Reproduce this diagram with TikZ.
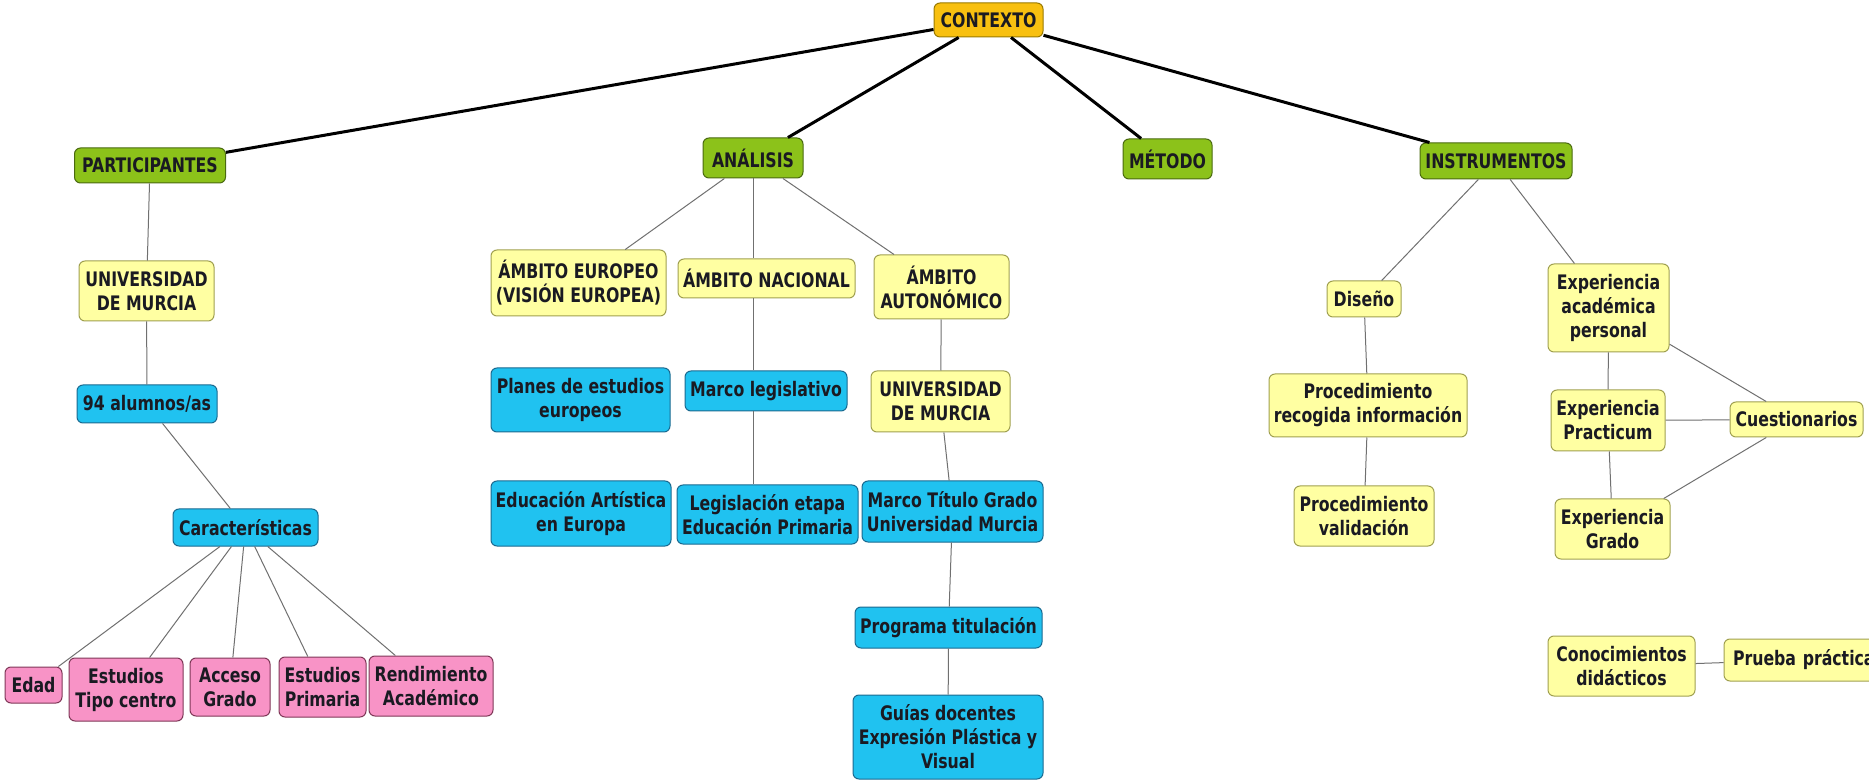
\documentclass[tikz,border=0pt]{standalone}
\usepackage{fontspec}
\setmainfont{DejaVu Sans Condensed}[BoldFont={DejaVu Sans Condensed Bold}, BoldFeatures={FakeStretch=0.875}]
\definecolor{txt}{HTML}{1A1A22}
\definecolor{orfill}{HTML}{F8C010}
\definecolor{ordraw}{HTML}{9A7A00}
\definecolor{grfill}{HTML}{8CC21A}
\definecolor{grdraw}{HTML}{4A6A10}
\definecolor{yefill}{HTML}{FFFFA2}
\definecolor{yedraw}{HTML}{A0A050}
\definecolor{blfill}{HTML}{20C2F0}
\definecolor{bldraw}{HTML}{1A6A90}
\definecolor{pkfill}{HTML}{F893C6}
\definecolor{pkdraw}{HTML}{803858}
\definecolor{lnk}{HTML}{707070}
\tikzset{
  box/.style={rounded corners=3pt, line width=0.5pt, inner sep=0pt, align=center,
    text=txt, font=\bfseries\fontsize{10}{12}\selectfont},
  orbox/.style={box, fill=orfill, draw=ordraw},
  grbox/.style={box, fill=grfill, draw=grdraw},
  yebox/.style={box, fill=yefill, draw=yedraw},
  blbox/.style={box, fill=blfill, draw=bldraw},
  pkbox/.style={box, fill=pkfill, draw=pkdraw},
  sz/.style 2 args={minimum width=#1*0.5pt, minimum height=#2*0.5pt},
  thick link/.style={line width=1.5pt, black},
  thin link/.style={line width=0.5pt, lnk}
}
\begin{document}
\begin{tikzpicture}[x=0.5pt,y=-0.5pt]
\useasboundingbox[fill=white] (0,0) rectangle (1869,780);
% level 0 and 1
\node[orbox, sz={109}{34}] (ctx) at (988.5,20) {CONTEXTO};
\node[grbox, sz={151}{35}] (part) at (150,165.5) {PARTICIPANTES};
\node[grbox, sz={100}{40}] (ana) at (753,158) {ANÁLISIS};
\node[grbox, sz={89}{40}] (met) at (1167.5,159) {MÉTODO};
\node[grbox, sz={152}{36}] (ins) at (1496,161) {INSTRUMENTOS};
% participantes branch
\node[yebox, sz={135}{60}] (um1) at (146.5,291) {UNIVERSIDAD\\DE MURCIA};
\node[blbox, sz={140}{38}] (alu) at (147,404) {94 alumnos/as};
\node[blbox, sz={145}{37}] (car) at (245.5,527.5) {Características};
\node[pkbox, sz={57}{36}] (edad) at (33.5,685) {Edad};
\node[pkbox, sz={114}{63}] (etc) at (126,689.5) {Estudios\\Tipo centro};
\node[pkbox, sz={80}{58}] (acc) at (230,687) {Acceso\\Grado};
\node[pkbox, sz={87}{60}] (epr) at (322.5,687) {Estudios\\Primaria};
\node[pkbox, sz={124}{60}] (ren) at (431,686) {Rendimiento\\Académico};
% analisis branch
\node[yebox, sz={175}{66}] (eur) at (578.5,283) {ÁMBITO EUROPEO\\(VISIÓN EUROPEA)};
\node[yebox, sz={177}{39}] (nac) at (766.5,278.5) {ÁMBITO NACIONAL};
\node[yebox, sz={135}{64}] (aut) at (941.5,287) {ÁMBITO\\AUTONÓMICO};
\node[blbox, sz={179}{64}] (pla) at (580.5,400) {Planes de estudios\\europeos};
\node[blbox, sz={162}{40}] (mle) at (766,391) {Marco legislativo};
\node[yebox, sz={139}{61}] (um2) at (940.5,401.5) {UNIVERSIDAD\\DE MURCIA};
\node[blbox, sz={180}{65}] (edu) at (581,513.5) {Educación Artística\\en Europa};
\node[blbox, sz={181}{59}] (leg) at (767.5,514.5) {Legislación etapa\\Educación Primaria};
\node[blbox, sz={181}{61}] (mtg) at (952.5,511.5) {Marco Título Grado\\Universidad Murcia};
\node[blbox, sz={187}{41}] (pro) at (948.5,627.5) {Programa titulación};
\node[blbox, sz={190}{84}] (gui) at (948,737) {Guías docentes\\Expresión Plástica y\\Visual};
% instrumentos branch
\node[yebox, sz={74}{36}] (dis) at (1364,299) {Diseño};
\node[yebox, sz={198}{63}] (prg) at (1368,405.5) {Procedimiento\\recogida información};
\node[yebox, sz={140}{60}] (pva) at (1364,516) {Procedimiento\\validación};
\node[yebox, sz={121}{88}] (eap) at (1608.5,308) {Experiencia\\académica\\personal};
\node[yebox, sz={114}{61}] (epc) at (1608,420.5) {Experiencia\\Practicum};
\node[yebox, sz={133}{35}] (cue) at (1796.5,419.5) {Cuestionarios};
\node[yebox, sz={115}{60}] (egr) at (1612.5,529) {Experiencia\\Grado};
\node[yebox, sz={147}{60}] (con) at (1621.5,666) {Conocimientos\\didácticos};
\node[yebox, sz={156}{42}, text width=150*0.5pt, align=left] (pru) at (1802,660) {\hspace*{3pt}Prueba práctica};
% thick links
\draw[thick link] (ctx) -- (part);
\draw[thick link] (ctx) -- (ana);
\draw[thick link] (ctx) -- (met);
\draw[thick link] (ctx) -- (ins);
% thin links
\draw[thin link] (part) -- (um1);
\draw[thin link] (um1) -- (alu);
\draw[thin link] (alu) -- (car);
\draw[thin link] (car) -- (edad);
\draw[thin link] (car) -- (etc);
\draw[thin link] (car) -- (acc);
\draw[thin link] (car) -- (epr);
\draw[thin link] (car) -- (ren);
\draw[thin link] (ana) -- (eur);
\draw[thin link] (ana.south) -- (ana.south |- nac.north);
\draw[thin link] (ana) -- (aut);
\draw[thin link] (nac.south -| ana.south) -- (mle.north -| ana.south);
\draw[thin link] (mle.south -| ana.south) -- (leg.north -| ana.south);
\draw[thin link] (aut) -- (um2);
\draw[thin link] (um2) -- (mtg);
\draw[thin link] (mtg) -- (pro);
\draw[thin link] (pro) -- (gui);
\draw[thin link] (ins) -- (dis);
\draw[thin link] (ins) -- (eap);
\draw[thin link] (dis) -- (prg);
\draw[thin link] (prg) -- (pva);
\draw[thin link] (eap) -- (epc);
\draw[thin link] (eap) -- (cue);
\draw[thin link] (epc) -- (cue);
\draw[thin link] (epc) -- (egr);
\draw[thin link] (egr) -- (cue);
\draw[thin link] (con) -- (pru);
\end{tikzpicture}
\end{document}
